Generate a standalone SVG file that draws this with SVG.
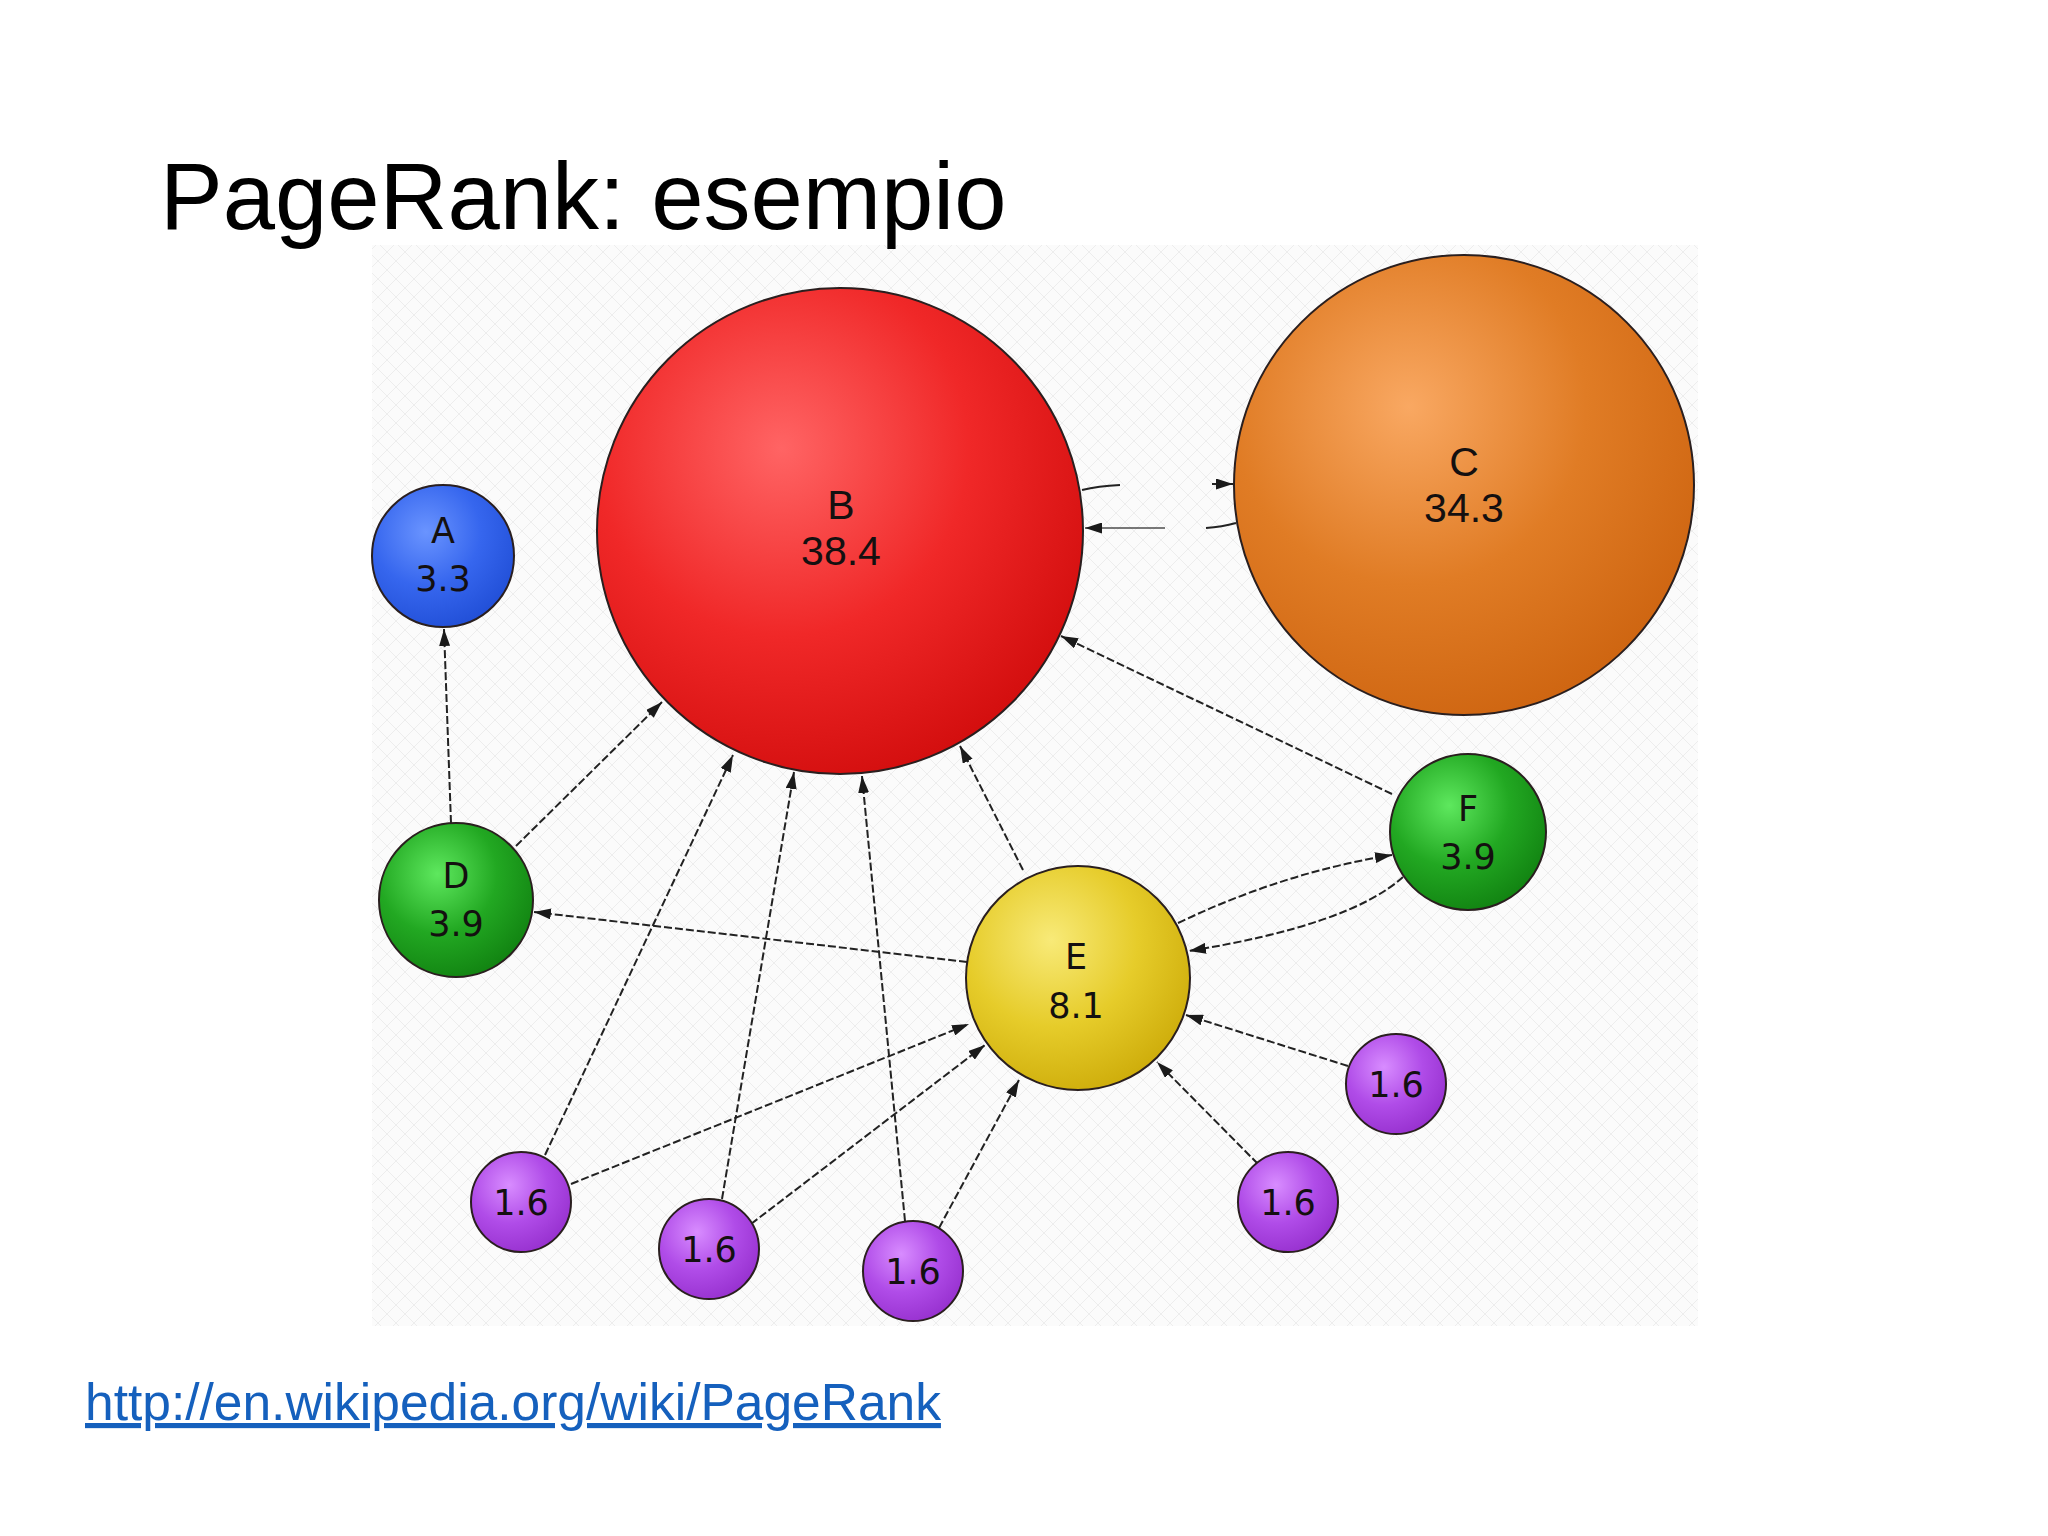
<svg xmlns="http://www.w3.org/2000/svg" width="2048" height="1536" viewBox="0 0 2048 1536">
<defs>
<pattern id="tex" width="18" height="18" patternUnits="userSpaceOnUse">
<rect width="18" height="18" fill="#fbfbfb"/>
<path d="M0,9 L9,0 L18,9 L9,18 Z" fill="none" stroke="#ededed" stroke-width="1"/>
</pattern>
<radialGradient id="gB" cx="0.38" cy="0.33" r="0.7">
<stop offset="0" stop-color="#ff6464"/><stop offset="0.55" stop-color="#f02828"/><stop offset="1" stop-color="#d40f0f"/>
</radialGradient>
<radialGradient id="gC" cx="0.38" cy="0.33" r="0.7">
<stop offset="0" stop-color="#f9a862"/><stop offset="0.55" stop-color="#e07c25"/><stop offset="1" stop-color="#cf6612"/>
</radialGradient>
<radialGradient id="gA" cx="0.38" cy="0.33" r="0.7">
<stop offset="0" stop-color="#6a94ff"/><stop offset="0.55" stop-color="#3666ee"/><stop offset="1" stop-color="#2250d8"/>
</radialGradient>
<radialGradient id="gG" cx="0.38" cy="0.33" r="0.7">
<stop offset="0" stop-color="#5ee85e"/><stop offset="0.55" stop-color="#22a822"/><stop offset="1" stop-color="#128412"/>
</radialGradient>
<radialGradient id="gE" cx="0.38" cy="0.33" r="0.7">
<stop offset="0" stop-color="#f8ea78"/><stop offset="0.55" stop-color="#e6cc2a"/><stop offset="1" stop-color="#cfae0c"/>
</radialGradient>
<radialGradient id="gP" cx="0.38" cy="0.33" r="0.7">
<stop offset="0" stop-color="#d88cff"/><stop offset="0.55" stop-color="#b04ce8"/><stop offset="1" stop-color="#9832d0"/>
</radialGradient>
<marker id="arr" viewBox="0 0 17 11" refX="17" refY="5.5" markerWidth="17" markerHeight="11" markerUnits="userSpaceOnUse" orient="auto">
<path d="M0,0 L17,5.5 L0,11 Z" fill="#1a1a1a"/>
</marker>
<style>
.node circle{stroke:#2a1f1f;stroke-width:2}
.lbl{font-family:"DejaVu Sans",sans-serif;font-size:35px;fill:#141010;text-anchor:middle}
.big{font-family:"Liberation Sans",Arial,sans-serif;font-size:41px}
.edge{fill:none;stroke:#222;stroke-width:2;stroke-dasharray:8 3}
.solid{fill:none;stroke:#222;stroke-width:2}
</style>
</defs>
<rect width="2048" height="1536" fill="#ffffff"/>
<rect x="372" y="245" width="1326" height="1081" fill="url(#tex)"/>
<text x="160" y="229" font-family="'Liberation Sans',Arial,sans-serif" font-size="94" fill="#000">PageRank: esempio</text>
<g id="connectors">
<path class="edge" d="M451,823 L444,629" marker-end="url(#arr)"/>
<path class="edge" d="M516,846 L662,702" marker-end="url(#arr)"/>
<path class="edge" d="M967,962 L534,912" marker-end="url(#arr)"/>
<path class="edge" d="M1023,870 L960,746" marker-end="url(#arr)"/>
<path class="edge" d="M1392,794 L1061,636" marker-end="url(#arr)"/>
<path class="edge" d="M1178,923 Q1285,872 1392,855" marker-end="url(#arr)"/>
<path class="edge" d="M1403,877 Q1350,925 1189,951" marker-end="url(#arr)"/>
<path class="edge" d="M545,1155 L733,755" marker-end="url(#arr)"/>
<path class="edge" d="M571,1184 L969,1024" marker-end="url(#arr)"/>
<path class="edge" d="M722,1199 L794,772" marker-end="url(#arr)"/>
<path class="edge" d="M751,1224 L985,1045" marker-end="url(#arr)"/>
<path class="edge" d="M905,1221 L862,776" marker-end="url(#arr)"/>
<path class="edge" d="M939,1228 L1019,1080" marker-end="url(#arr)"/>
<path class="edge" d="M1258,1164 L1157,1062" marker-end="url(#arr)"/>
<path class="edge" d="M1348,1066 L1186,1015" marker-end="url(#arr)"/>
<path class="solid" d="M1082,490 Q1098,486 1120,485"/>
<path class="solid" d="M1212,484 L1233,484" marker-end="url(#arr)"/>
<path class="solid" d="M1236,523 Q1222,527 1206,528"/>
<path class="solid" d="M1165,528 L1085,528" stroke-opacity="0.6" marker-end="url(#arr)"/>
</g>
<g id="node-B" class="node"><circle cx="840" cy="531" r="243" fill="url(#gB)"/><text class="lbl big" x="841" y="519">B</text><text class="lbl big" x="841" y="565">38.4</text></g>
<g id="node-C" class="node"><circle cx="1464" cy="485" r="230" fill="url(#gC)"/><text class="lbl big" x="1464" y="476">C</text><text class="lbl big" x="1464" y="522">34.3</text></g>
<g id="node-A" class="node"><circle cx="443" cy="556" r="71" fill="url(#gA)"/><text class="lbl" x="443" y="543">A</text><text class="lbl" x="443" y="591">3.3</text></g>
<g id="node-D" class="node"><circle cx="456" cy="900" r="77" fill="url(#gG)"/><text class="lbl" x="456" y="888">D</text><text class="lbl" x="456" y="936">3.9</text></g>
<g id="node-F" class="node"><circle cx="1468" cy="832" r="78" fill="url(#gG)"/><text class="lbl" x="1468" y="821">F</text><text class="lbl" x="1468" y="869">3.9</text></g>
<g id="node-E" class="node"><circle cx="1078" cy="978" r="112" fill="url(#gE)"/><text class="lbl" x="1076" y="969">E</text><text class="lbl" x="1076" y="1018">8.1</text></g>
<g id="node-P1" class="node"><circle cx="521" cy="1202" r="50" fill="url(#gP)"/><text class="lbl" x="521" y="1215">1.6</text></g>
<g id="node-P2" class="node"><circle cx="709" cy="1249" r="50" fill="url(#gP)"/><text class="lbl" x="709" y="1262">1.6</text></g>
<g id="node-P3" class="node"><circle cx="913" cy="1271" r="50" fill="url(#gP)"/><text class="lbl" x="913" y="1284">1.6</text></g>
<g id="node-P4" class="node"><circle cx="1288" cy="1202" r="50" fill="url(#gP)"/><text class="lbl" x="1288" y="1215">1.6</text></g>
<g id="node-P5" class="node"><circle cx="1396" cy="1084" r="50" fill="url(#gP)"/><text class="lbl" x="1396" y="1097">1.6</text></g>
<text x="85" y="1420" font-family="'Liberation Sans',Arial,sans-serif" font-size="51.5" fill="#1560bd" text-decoration="underline">http://en.wikipedia.org/wiki/PageRank</text>
</svg>
